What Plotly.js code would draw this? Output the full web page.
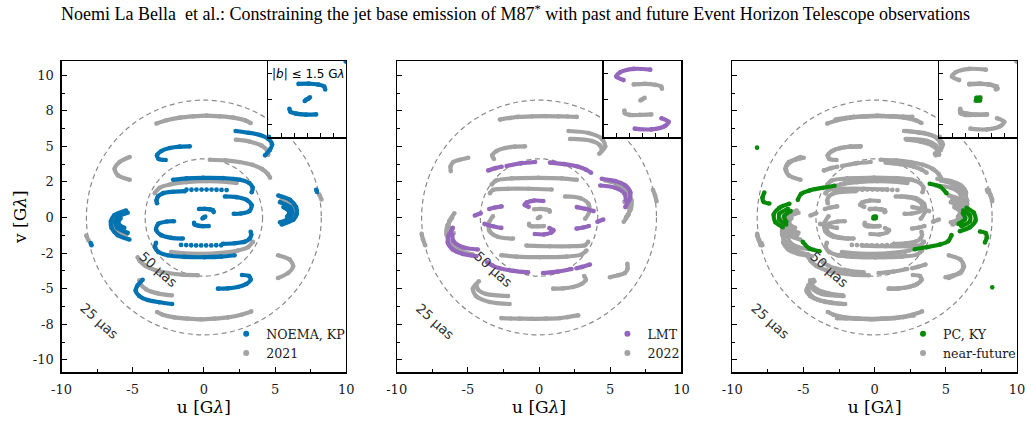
<!DOCTYPE html>
<html><head><meta charset="utf-8">
<script src="https://cdn.plot.ly/plotly-3.0.1.min.js"></script>
<style>html,body{margin:0;padding:0;background:#fff}#chart{width:1031px;height:424px}</style>
</head><body><div id="chart"></div>
<script>
// ---------- data: uv tracks [u, v] in G-lambda ----------
const gray2021Tracks = [
 [[-3.33,6.60],[-2.63,6.83],[-1.69,7.02],[-0.75,7.11],[0.19,7.16],[1.13,7.11],[2.07,7.02],[2.89,6.83],[3.29,6.64]],
 [[3.33,-6.60],[2.63,-6.83],[1.69,-7.02],[0.75,-7.11],[-0.19,-7.16],[-1.13,-7.11],[-2.07,-7.02],[-2.89,-6.83],[-3.29,-6.64]],
 [[2.25,5.47],[3.24,5.33],[4.06,5.05],[4.46,4.67],[4.53,4.41]],
 [[-2.25,-5.47],[-3.24,-5.33],[-4.06,-5.05],[-4.46,-4.67],[-4.53,-4.41]],
 [[-5.21,4.25],[-5.92,3.90],[-6.27,3.43],[-6.03,2.96],[-5.21,2.65]],
 [[5.21,-4.25],[5.92,-3.90],[6.27,-3.43],[6.03,-2.96],[5.21,-2.65]],
 [[0.42,4.06],[1.5,4.02],[2.5,3.9],[3.4,3.7],[4.1,3.4],[4.5,3.05],[4.65,2.8]],
 [[-0.42,-4.06],[-1.5,-4.02],[-2.5,-3.9],[-3.4,-3.7],[-4.1,-3.4],[-4.5,-3.05],[-4.65,-2.8]],
 [[-3.45,1.71],[-3.10,2.09],[-2.39,2.32],[-1.22,2.49],[0.19,2.56],[1.6,2.51],[2.3,2.42]],
 [[3.45,-1.71],[3.10,-2.09],[2.39,-2.32],[1.22,-2.49],[-0.19,-2.56],[-1.6,-2.51],[-2.3,-2.42]],
 [[5.45,1.25],[6.0,0.95],[6.3,0.45],[6.15,-0.05]],
 [[-5.45,-1.25],[-6.0,-0.95],[-6.3,-0.45],[-6.15,0.05]],
 [[8.26,1.27],[8.1,1.62]],
 [[-8.26,-1.27],[-8.1,-1.62]]
];
const noemaKPTracks = [
 [[2.23,6.08],[3.12,5.96],[3.94,5.80],[4.53,5.52],[4.79,5.14],[4.65,4.77],[4.30,4.37]],
 [[-2.23,-6.08],[-3.12,-5.96],[-3.94,-5.80],[-4.53,-5.52],[-4.79,-5.14],[-4.65,-4.77],[-4.30,-4.37]],
 [[-0.99,5.0],[-1.69,4.98],[-2.39,4.88],[-2.98,4.67],[-3.29,4.37],[-3.17,4.11],[-2.68,4.04]],
 [[0.99,-5.0],[1.69,-4.98],[2.39,-4.88],[2.98,-4.67],[3.29,-4.37],[3.17,-4.11],[2.68,-4.04]],
 [[-2.16,2.65],[-1.22,2.75],[-0.05,2.79],[1.36,2.77],[2.54,2.65],[3.19,2.42],[3.43,2.09],[3.36,1.78]],
 [[2.16,-2.65],[1.22,-2.75],[0.05,-2.79],[-1.36,-2.77],[-2.54,-2.65],[-3.19,-2.42],[-3.43,-2.09],[-3.36,-1.78]],
 [[-1.34,1.85],[-2.16,1.81],[-2.86,1.71],[-3.22,1.48],[-3.33,1.20],[-3.29,1.01]],
 [[1.34,-1.85],[2.16,-1.81],[2.86,-1.71],[3.22,-1.48],[3.33,-1.20],[3.29,-1.01]],
 [[1.48,1.48],[2.3,1.43],[3.0,1.24],[3.36,0.85],[3.2,0.45],[2.6,0.28],[2.1,0.26]],
 [[-1.48,-1.48],[-2.3,-1.43],[-3.0,-1.24],[-3.36,-0.85],[-3.2,-0.45],[-2.6,-0.28],[-2.1,-0.26]],
 [[5.23,1.55],[6.06,1.24],[6.48,0.73],[6.53,0.26],[6.29,-0.16],[5.47,-0.49]],
 [[-5.23,-1.55],[-6.06,-1.24],[-6.48,-0.73],[-6.53,-0.26],[-6.29,0.16],[-5.47,0.49]],
 [[5.35,1.08],[6.06,0.73],[6.22,0.31],[5.94,-0.09],[5.35,-0.33]],
 [[-5.35,-1.08],[-6.06,-0.73],[-6.22,-0.31],[-5.94,0.09],[-5.35,0.33]],
 [[5.59,0.73],[6.0,0.4],[5.85,0.05]],
 [[-5.59,-0.73],[-6.0,-0.4],[-5.85,-0.05]],
 [[7.89,1.95],[7.95,1.8]],
 [[-7.89,-1.95],[-7.95,-1.8]],
 [[-0.34,0.60],[0.05,0.61],[0.43,0.57],[0.65,0.50],[0.69,0.38]],
 [[0.34,-0.60],[-0.05,-0.61],[-0.43,-0.57],[-0.65,-0.50],[-0.69,-0.38]],
 [[-0.1,-0.07],[-0.04,-0.02],[0.04,0.02],[0.1,0.07]]
];
const noemaKPDots = [
 [-1.22,1.95],[-0.87,1.95],[-0.52,1.96],[-0.16,1.96],[0.19,1.96],[0.54,1.96],[0.89,1.95],[1.24,1.94],[1.60,1.93],
 [1.22,-1.95],[0.87,-1.95],[0.52,-1.96],[0.16,-1.96],[-0.19,-1.96],[-0.54,-1.96],[-0.89,-1.95],[-1.24,-1.94],[-1.60,-1.93]
];
const gray2022Tracks = [
 [[-2.75,6.88],[-2.0,7.0],[-1.46,7.07],[-0.5,7.11],[0.5,7.12],[1.36,7.11],[2.0,7.1],[2.65,7.07]],
 [[2.75,-6.88],[2.0,-7.0],[1.46,-7.07],[0.5,-7.11],[-0.5,-7.12],[-1.36,-7.11],[-2.0,-7.1],[-2.65,-7.07]],
 [[2.07,6.08],[3.47,5.94],[4.41,5.54],[4.65,5.0],[4.23,4.48]],
 [[2.18,5.52],[3.71,5.38],[4.30,5.05],[4.41,4.72]],
 [[-2.07,-6.08],[-3.47,-5.94],[-4.41,-5.54],[-4.65,-5.0],[-4.23,-4.48]],
 [[-2.18,-5.52],[-3.71,-5.38],[-4.30,-5.05],[-4.41,-4.72]],
 [[-0.99,5.0],[-1.69,4.98],[-2.39,4.88],[-2.98,4.67],[-3.29,4.37],[-3.17,4.11]],
 [[0.99,-5.0],[1.69,-4.98],[2.39,-4.88],[2.98,-4.67],[3.29,-4.37],[3.17,-4.11]],
 [[-4.98,4.20],[-5.56,4.06],[-6.03,3.90],[-6.22,3.59],[-6.20,3.26]],
 [[4.98,-4.20],[5.56,-4.06],[6.03,-3.90],[6.22,-3.59],[6.20,-3.26]],
 [[4.65,2.6],[5.5,2.35],[6.2,1.8],[6.5,1.2],[6.45,0.6],[6.1,0.0]],
 [[6.0,1.1],[6.35,0.65],[6.3,0.25],[5.95,-0.3]],
 [[-4.65,-2.6],[-5.5,-2.35],[-6.2,-1.8],[-6.5,-1.2],[-6.45,-0.6],[-6.1,0.0]],
 [[-6.0,-1.1],[-6.35,-0.65],[-6.3,-0.25],[-5.95,0.3]],
 [[8.0,1.95],[8.15,1.55],[8.25,1.15]],
 [[-8.0,-1.95],[-8.15,-1.55],[-8.25,-1.15]],
 [[-3.33,2.32],[-2.98,2.61],[-1.92,2.75],[-0.05,2.79],[1.6,2.75],[2.65,2.65]],
 [[3.33,-2.32],[2.98,-2.61],[1.92,-2.75],[0.05,-2.79],[-1.6,-2.75],[-2.65,-2.65]],
 [[-3.45,1.71],[-3.22,1.95],[-2.16,2.02],[-0.75,2.02],[0.89,1.97]],
 [[3.45,-1.71],[3.22,-1.95],[2.16,-2.02],[0.75,-2.02],[-0.89,-1.97]],
 [[1.83,1.48],[2.89,1.36],[3.47,0.96],[3.52,0.38],[3.24,-0.09]],
 [[-1.83,-1.48],[-2.89,-1.36],[-3.47,-0.96],[-3.52,-0.38],[-3.24,0.09]],
 [[-0.34,0.58],[0.1,0.6],[0.5,0.56],[0.72,0.5],[0.75,0.41]],
 [[0.34,-0.6],[-0.1,-0.62],[-0.5,-0.62],[-0.68,-0.55],[-0.70,-0.45]],
 [[-0.08,-0.05],[0.0,0.0],[0.08,0.05]]
];
const lmtTracks = [
 [[-3.57,3.31],[-3.05,3.47],[-2.63,3.57]],
 [[-2.28,3.62],[-1.3,3.80],[-0.28,3.90]],
 [[0.77,3.86],[1.8,3.75],[2.77,3.57],[3.3,3.36],[3.65,3.15]],
 [[3.57,-3.31],[3.05,-3.47],[2.63,-3.57]],
 [[2.28,-3.62],[1.3,-3.80],[0.28,-3.90]],
 [[-0.77,-3.86],[-1.8,-3.75],[-2.77,-3.57],[-3.3,-3.36],[-3.65,-3.15]],
 [[4.41,2.72],[5.35,2.56],[6.06,2.25],[6.41,1.78],[6.34,1.24],[6.06,0.73]],
 [[4.30,2.25],[5.35,2.09],[6.01,1.67],[6.10,1.20]],
 [[-4.41,-2.72],[-5.35,-2.56],[-6.06,-2.25],[-6.41,-1.78],[-6.34,-1.24],[-6.06,-0.73]],
 [[-4.30,-2.25],[-5.35,-2.09],[-6.01,-1.67],[-6.10,-1.20]],
 [[-4.51,0.14],[-4.1,0.3]],
 [[-3.5,0.6],[-3.1,0.7],[-2.63,0.78]],
 [[4.51,-0.14],[4.1,-0.3]],
 [[3.5,-0.6],[3.1,-0.7],[2.63,-0.78]],
 [[2.65,0.73],[3.24,0.61],[3.83,0.45]],
 [[-2.65,-0.73],[-3.24,-0.61],[-3.83,-0.45]],
 [[-0.73,0.75],[-1.01,0.89],[-0.86,1.06],[-0.34,1.19],[0.30,1.16]],
 [[0.73,-0.75],[1.01,-0.89],[0.86,-1.06],[0.34,-1.19],[-0.30,-1.16]]
];
const pcKYTracks = [
 [[-8.26,4.91]],
 [[8.26,-4.91]],
 [[-7.75,1.75],[-7.88,1.4],[-7.8,1.1],[-7.4,0.98]],
 [[7.75,-1.75],[7.88,-1.4],[7.8,-1.1],[7.4,-0.98]],
 [[-5.99,0.96],[-6.69,0.68],[-7.09,0.21],[-6.97,-0.33],[-6.46,-0.68]],
 [[-6.10,0.61],[-6.69,0.26],[-6.69,-0.16],[-6.22,-0.49]],
 [[-5.9,0.45],[-6.35,0.1],[-6.2,-0.3]],
 [[5.99,-0.96],[6.69,-0.68],[7.09,-0.21],[6.97,0.33],[6.46,0.68]],
 [[6.10,-0.61],[6.69,-0.26],[6.69,0.16],[6.22,0.49]],
 [[5.9,-0.45],[6.35,-0.1],[6.2,0.3]],
 [[-5.40,1.24],[-5.16,1.67],[-4.58,1.90],[-3.64,2.09],[-2.82,2.23]],
 [[5.40,-1.24],[5.16,-1.67],[4.58,-1.90],[3.64,-2.09],[2.82,-2.23]],
 [[3.87,2.37],[4.58,2.18],[5.05,1.71]],
 [[-3.87,-2.37],[-4.58,-2.18],[-5.05,-1.71]],
 [[-0.07,-0.05],[0.07,-0.05],[0.07,0.05],[-0.07,0.05]]
];
const nearFutureTracks = [].concat(gray2021Tracks, noemaKPTracks, gray2022Tracks, lmtTracks);
const circleRadii = [4.125, 8.25];           // 50 uas and 25 uas
const circleLabels = ['50 μas', '25 μas'];
const xTickVals = [-10,-5,0,5,10], xTickText = ['-10','-5','0','5','10'];
const yTickVals = [-10,-7.5,-5,-2.5,0,2.5,5,7.5,10], yTickText = ['-10','-8','-5','-2','0','2','5','8','10'];
const panelLegends = [['NOEMA, KP','2021'],['LMT','2022'],['PC, KY','near-future']];

// ---------- styles ----------
const C = {gray:'#a3a3a3', blue:'#0173b2', purple:'#9467bd', green:'#078a07'};
const serif = 'DejaVu Serif', sans = 'DejaVu Sans';

function flatten(tracks){
  const x=[], y=[];
  tracks.forEach(t=>{ t.forEach(p=>{x.push(p[0]); y.push(p[1]);}); x.push(null); y.push(null); });
  return {x, y};
}
function trackTrace(tracks, color, n){
  const f = flatten(tracks);
  return {type:'scatter', mode:'lines+markers', x:f.x, y:f.y, xaxis:'x'+n, yaxis:'y'+n,
    line:{color, width:4.2, shape:'spline', smoothing:0.8}, marker:{color, size:4.6},
    connectgaps:false, showlegend:false, hoverinfo:'skip'};
}
function dotTrace(points, color, n){
  return {type:'scatter', mode:'markers', x:points.map(p=>p[0]), y:points.map(p=>p[1]),
    xaxis:'x'+n, yaxis:'y'+n, marker:{color, size:4.8}, showlegend:false, hoverinfo:'skip'};
}
function legendTrace(name, color, leg){
  return {type:'scatter', mode:'markers', x:[null], y:[null], name, legend:leg,
    marker:{color, size:6}, showlegend:true, hoverinfo:'skip'};
}

const traces = [];
[1,4].forEach(n=>{
  traces.push(trackTrace(gray2021Tracks, C.gray, n));
  traces.push(trackTrace(noemaKPTracks, C.blue, n));
  traces.push(dotTrace(noemaKPDots, C.blue, n));
});
[2,5].forEach(n=>{
  traces.push(trackTrace(gray2022Tracks, C.gray, n));
  traces.push(trackTrace(lmtTracks, C.purple, n));
});
[3,6].forEach(n=>{
  traces.push(trackTrace(nearFutureTracks, C.gray, n));
  traces.push(dotTrace(noemaKPDots, C.gray, n));
  traces.push(trackTrace(pcKYTracks, C.green, n));
});
traces.push(legendTrace(panelLegends[0][0], C.blue, 'legend'));
traces.push(legendTrace(panelLegends[0][1], C.gray, 'legend'));
traces.push(legendTrace(panelLegends[1][0], C.purple, 'legend2'));
traces.push(legendTrace(panelLegends[1][1], C.gray, 'legend2'));
traces.push(legendTrace(panelLegends[2][0], C.green, 'legend3'));
traces.push(legendTrace(panelLegends[2][1], C.gray, 'legend3'));

// ---------- layout ----------
const W = 1031, H = 424;
const panelX = [[61.5,346.2],[396.7,681.4],[732.3,1017]];
const panelY = [61, 372.3];
const insetW = 77.8, insetH = 76.3;
const pxX = a => a.map(v=>v/W);
const pxY = a => [(H-a[1])/H, (H-a[0])/H];

const tickFont = {family:serif, size:13, color:'#1a1a1a'};
function mainX(i){
  return {domain:pxX(panelX[i]), anchor:'y'+(i===0?'':i+1), range:[-10,10],
    tickmode:'array', tickvals:xTickVals, ticktext:xTickText,
    ticks:'inside', ticklen:5, tickwidth:1, tickcolor:'#000', ticklabelstandoff:5,
    minor:{ticks:'inside', ticklen:3, tickwidth:1, tickcolor:'#000', tickvals:[-7.5,-2.5,2.5,7.5]},
    showline:true, linecolor:'#000', linewidth:1.2, mirror:true, showgrid:false, zeroline:false,
    tickfont:tickFont, title:{text:'u [G<i>λ</i>]', font:{family:serif, size:17, color:'#000'}, standoff:4}};
}
function mainY(i){
  const ax = {domain:pxY(panelY), anchor:'x'+(i===0?'':i+1), range:[-10.88,11.0],
    tickmode:'array', tickvals:yTickVals, ticktext:yTickText, showticklabels:i===0,
    ticks:'inside', ticklen:5, tickwidth:1, tickcolor:'#000', ticklabelstandoff:4,
    minor:{ticks:'inside', ticklen:3, tickwidth:1, tickcolor:'#000', tickvals:[-8.75,-6.25,-3.75,-1.25,1.25,3.75,6.25,8.75]},
    showline:true, linecolor:'#000', linewidth:1.2, mirror:true, showgrid:false, zeroline:false,
    tickfont:tickFont};
  if(i===0) ax.title = {text:'v [G<i>λ</i>]', font:{family:serif, size:17, color:'#000'}, standoff:1};
  return ax;
}
function insetX(i){
  const r = panelX[i][1];
  return {domain:pxX([r-insetW, r]), anchor:'y'+(i+4), range:[-1.5,1.5],
    tickmode:'array', tickvals:[-1,-0.5,0,0.5,1], showticklabels:false,
    ticks:'inside', ticklen:4, tickwidth:1, tickcolor:'#000',
    showline:true, linecolor:'#000', linewidth:1.2, mirror:true, showgrid:false, zeroline:false};
}
function insetY(i){
  return {domain:pxY([panelY[0], panelY[0]+insetH]), anchor:'x'+(i+4), range:[-1.5,1.5],
    tickmode:'array', tickvals:[-1,0,1], showticklabels:false,
    ticks:'inside', ticklen:4, tickwidth:1, tickcolor:'#000',
    showline:true, linecolor:'#000', linewidth:1.2, mirror:true, showgrid:false, zeroline:false};
}

const layout = {
  width:W, height:H, margin:{l:0,r:0,t:0,b:0}, paper_bgcolor:'#fff', plot_bgcolor:'#fff',
  title:{text:'Noemi La Bella\u00a0 et al.: Constraining the jet base emission of M87<sup>*</sup> with past and future Event Horizon Telescope observations',
    font:{family:'Liberation Serif', size:18, color:'#000'}, x:0.5, xanchor:'center', xref:'paper',
    y:1-14/H, yref:'container', yanchor:'middle'},
  shapes:[], annotations:[], hovermode:false
};
for(let i=0;i<3;i++){
  const s = i===0?'':String(i+1);
  layout['xaxis'+s] = mainX(i);
  layout['yaxis'+s] = mainY(i);
  layout['xaxis'+(i+4)] = insetX(i);
  layout['yaxis'+(i+4)] = insetY(i);
  circleRadii.forEach(r=>{
    layout.shapes.push({type:'circle', xref:'x'+s, yref:'y'+s, x0:-r, x1:r, y0:-r, y1:r,
      line:{color:'#8a8a8a', width:1.2, dash:'5px,3.5px'}, layer:'below'});
  });
  layout.annotations.push({xref:'x'+s, yref:'y'+s, x:-3.2, y:-3.6, text:circleLabels[0], showarrow:false,
    xanchor:'center', yanchor:'middle', textangle:42, font:{family:sans, size:13.5, color:'#333'}});
  layout.annotations.push({xref:'x'+s, yref:'y'+s, x:-7.3, y:-7.25, text:circleLabels[1], showarrow:false,
    xanchor:'center', yanchor:'middle', textangle:42, font:{family:sans, size:13.5, color:'#333'}});
  layout['legend'+s] = {x:(panelX[i][1]+4)/W, xanchor:'right', y:(H-368)/H, yanchor:'bottom',
    bgcolor:'rgba(0,0,0,0)', borderwidth:0, itemwidth:30, tracegroupgap:0, traceorder:'normal',
    font:{family:serif, size:12.6, color:'#1a1a1a'}};
}
layout.annotations.push({xref:'paper', yref:'paper', x:(panelX[0][1]-insetW/2+1)/W, y:(H-74)/H,
  xanchor:'center', yanchor:'middle',
  text:'|<i>b</i>| ≤ 1.5 G<i>λ</i>', showarrow:false, font:{family:sans, size:12, color:'#000'}});

Plotly.newPlot('chart', traces, layout, {staticPlot:true});
</script></body></html>
